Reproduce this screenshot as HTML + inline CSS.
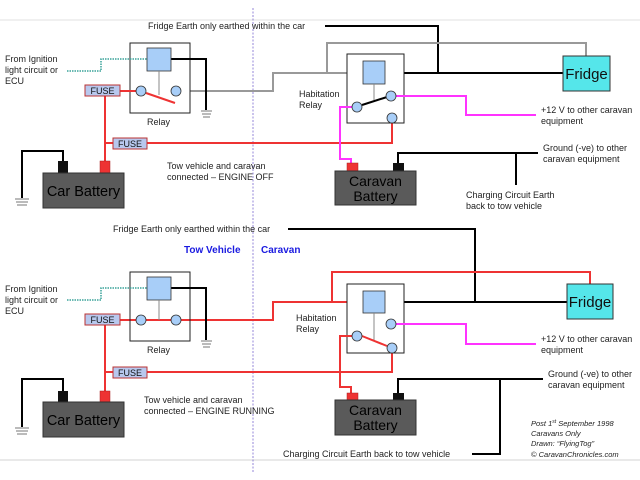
<!DOCTYPE html>
<html><head><meta charset="utf-8"><style>
html,body{margin:0;padding:0;background:#fff;width:640px;height:480px;overflow:hidden}
svg{display:block}
text{font-family:"Liberation Sans",Arial,sans-serif}
</style></head><body>
<svg width="640" height="480" viewBox="0 0 640 480" xmlns="http://www.w3.org/2000/svg">
<line x1="0" y1="20" x2="640" y2="20" stroke="#e2e2e2" stroke-width="1"/>
<line x1="0" y1="460" x2="640" y2="460" stroke="#e2e2e2" stroke-width="1.5"/>
<line x1="253" y1="8" x2="253" y2="472" stroke="#7a6ad0" stroke-width="0.8" stroke-dasharray="2,1.5"/>

<text x="148" y="29" font-size="9" fill="#222">Fridge Earth only earthed within the car</text>
<polyline points="325,26 438,26 438,73" fill="none" stroke="#000" stroke-width="2"/>
<polyline points="181,91 273,91 273,73 363,73" fill="none" stroke="#999" stroke-width="2"/>
<polyline points="327,73 327,43 586,43 586,56" fill="none" stroke="#999" stroke-width="2"/>
<line x1="385" y1="73" x2="563" y2="73" stroke="#000" stroke-width="2"/>
<rect x="563" y="56" width="47" height="35" fill="#55e6ea" stroke="#333" stroke-width="1"/>
<text x="586.5" y="79" font-size="15" text-anchor="middle" fill="#111">Fridge</text>
<rect x="130" y="43" width="60" height="70" fill="#fff" stroke="#222" stroke-width="1"/>
<polyline points="171,59 206,59 206,110" fill="none" stroke="#000" stroke-width="2"/>
<g stroke="#777" stroke-width="1"><line x1="201" y1="111" x2="212" y2="111"/><line x1="202" y1="114" x2="211" y2="114"/><line x1="203" y1="117" x2="210" y2="117"/></g>
<rect x="147" y="48" width="24" height="23" fill="#a8cef8" stroke="#333" stroke-width="0.8"/>
<line x1="159" y1="71" x2="159" y2="95" stroke="#888" stroke-width="1"/>
<polyline points="67,71 101,71 101,59 147,59" fill="none" stroke="#3aa39a" stroke-width="1.5" stroke-dasharray="1.5,1"/>
<text font-size="9" fill="#222"><tspan x="5" y="62">From Ignition</tspan><tspan x="5" y="73">light circuit or</tspan><tspan x="5" y="84">ECU</tspan></text>
<line x1="120" y1="91" x2="136" y2="91" stroke="#e33" stroke-width="2"/>
<line x1="146" y1="93" x2="175" y2="103" stroke="#e33" stroke-width="2"/>
<circle cx="141" cy="91" r="5" fill="#a8cef8" stroke="#333" stroke-width="0.8"/>
<circle cx="176" cy="91" r="5" fill="#a8cef8" stroke="#333" stroke-width="0.8"/>
<text x="147" y="125" font-size="9" fill="#222">Relay</text>
<line x1="105" y1="96" x2="105" y2="163" stroke="#e33" stroke-width="2"/>
<line x1="105" y1="143" x2="113" y2="143" stroke="#e33" stroke-width="2"/>
<polyline points="147,143 392,143 392,123" fill="none" stroke="#e33" stroke-width="2"/>
<rect x="85" y="85" width="35" height="11" fill="#b8c8ee" stroke="#b33" stroke-width="1"/>
<text x="102.5" y="94" font-size="9" text-anchor="middle" fill="#111">FUSE</text>
<rect x="113" y="138" width="34" height="11" fill="#b8c8ee" stroke="#b33" stroke-width="1"/>
<text x="130" y="147" font-size="9" text-anchor="middle" fill="#111">FUSE</text>
<polyline points="63,161 63,151 22,151 22,198" fill="none" stroke="#000" stroke-width="2"/>
<g stroke="#777" stroke-width="1"><line x1="15" y1="199" x2="29" y2="199"/><line x1="16" y1="202" x2="28" y2="202"/><line x1="17" y1="205" x2="27" y2="205"/></g>
<rect x="58" y="161" width="10" height="12" fill="#111"/>
<rect x="100" y="161" width="10" height="12" fill="#e33" stroke="#a22" stroke-width="0.5"/>
<rect x="43" y="173" width="81" height="35" fill="#5a5a5a" stroke="#333"/>
<text x="83.5" y="196" font-size="14.5" text-anchor="middle" fill="#000">Car Battery</text>
<text font-size="9" fill="#222"><tspan x="167" y="169">Tow vehicle and caravan</tspan><tspan x="167" y="180">connected – ENGINE OFF</tspan></text>
<rect x="347" y="54" width="57" height="69" fill="#fff" stroke="#222" stroke-width="1"/>
<rect x="363" y="61" width="22" height="23" fill="#a8cef8" stroke="#333" stroke-width="0.8"/>
<line x1="374" y1="84" x2="374" y2="100" stroke="#888" stroke-width="1"/>
<line x1="362" y1="105" x2="387" y2="97" stroke="#000" stroke-width="2"/>
<polyline points="396,96 466,96 466,115 536,115" fill="none" stroke="#f3f" stroke-width="2"/>
<polyline points="352,107 340,107 340,159 351,159 351,163" fill="none" stroke="#f3f" stroke-width="2"/>
<circle cx="357" cy="107" r="5" fill="#a8cef8" stroke="#333" stroke-width="0.8"/>
<circle cx="391" cy="96" r="5" fill="#a8cef8" stroke="#333" stroke-width="0.8"/>
<circle cx="392" cy="118" r="5" fill="#a8cef8" stroke="#333" stroke-width="0.8"/>
<text font-size="9" fill="#222"><tspan x="299" y="97">Habitation</tspan><tspan x="299" y="108">Relay</tspan></text>
<text font-size="9" fill="#222"><tspan x="541" y="113">+12 V to other caravan</tspan><tspan x="541" y="124">equipment</tspan></text>
<polyline points="398,163 398,153 538,153" fill="none" stroke="#000" stroke-width="2"/>
<line x1="516" y1="153" x2="516" y2="185" stroke="#000" stroke-width="2"/>
<rect x="347" y="163" width="11" height="8" fill="#e33" stroke="#a22" stroke-width="0.5"/>
<rect x="393" y="163" width="11" height="8" fill="#111"/>
<rect x="335" y="171" width="81" height="34" fill="#5a5a5a" stroke="#333"/>
<text x="375.5" y="186" font-size="14" text-anchor="middle" fill="#000">Caravan</text>
<text x="375.5" y="201" font-size="14" text-anchor="middle" fill="#000">Battery</text>
<text font-size="9" fill="#222"><tspan x="543" y="151">Ground (-ve) to other</tspan><tspan x="543" y="162">caravan equipment</tspan></text>
<text font-size="9" fill="#222"><tspan x="466" y="198">Charging Circuit Earth</tspan><tspan x="466" y="209">back to tow vehicle</tspan></text>

<text x="113" y="232" font-size="9" fill="#222">Fridge Earth only earthed within the car</text>
<polyline points="288,229 475,229 475,302" fill="none" stroke="#000" stroke-width="2"/>
<text x="184" y="253" font-size="10" font-weight="bold" fill="#1a1ae0">Tow Vehicle</text>
<text x="261" y="253" font-size="10" font-weight="bold" fill="#1a1ae0">Caravan</text>
<polyline points="120,320 273,320 273,302 363,302" fill="none" stroke="#e33" stroke-width="2"/>
<polyline points="332,302 332,272 590,272 590,284" fill="none" stroke="#e33" stroke-width="2"/>
<line x1="385" y1="302" x2="567" y2="302" stroke="#000" stroke-width="2"/>
<rect x="567" y="284" width="46" height="35" fill="#55e6ea" stroke="#333" stroke-width="1"/>
<text x="590" y="307" font-size="15" text-anchor="middle" fill="#111">Fridge</text>
<rect x="130" y="272" width="60" height="69" fill="none" stroke="#222" stroke-width="1"/>
<polyline points="171,288 206,288 206,340" fill="none" stroke="#000" stroke-width="2"/>
<g stroke="#777" stroke-width="1"><line x1="201" y1="341" x2="212" y2="341"/><line x1="202" y1="344" x2="211" y2="344"/><line x1="203" y1="347" x2="210" y2="347"/></g>
<rect x="147" y="277" width="24" height="23" fill="#a8cef8" stroke="#333" stroke-width="0.8"/>
<line x1="159" y1="300" x2="159" y2="320" stroke="#888" stroke-width="1"/>
<polyline points="67,300 101,300 101,288 147,288" fill="none" stroke="#3aa39a" stroke-width="1.5" stroke-dasharray="1.5,1"/>
<text font-size="9" fill="#222"><tspan x="5" y="292">From Ignition</tspan><tspan x="5" y="303">light circuit or</tspan><tspan x="5" y="314">ECU</tspan></text>
<circle cx="141" cy="320" r="5" fill="#a8cef8" stroke="#333" stroke-width="0.8"/>
<circle cx="176" cy="320" r="5" fill="#a8cef8" stroke="#333" stroke-width="0.8"/>
<text x="147" y="353" font-size="9" fill="#222">Relay</text>
<line x1="105" y1="325" x2="105" y2="391" stroke="#e33" stroke-width="2"/>
<line x1="105" y1="372" x2="113" y2="372" stroke="#e33" stroke-width="2"/>
<polyline points="147,372 392,372 392,353" fill="none" stroke="#e33" stroke-width="2"/>
<rect x="85" y="314" width="35" height="11" fill="#b8c8ee" stroke="#b33" stroke-width="1"/>
<text x="102.5" y="323" font-size="9" text-anchor="middle" fill="#111">FUSE</text>
<rect x="113" y="367" width="34" height="11" fill="#b8c8ee" stroke="#b33" stroke-width="1"/>
<text x="130" y="376" font-size="9" text-anchor="middle" fill="#111">FUSE</text>
<polyline points="63,391 63,379 22,379 22,427" fill="none" stroke="#000" stroke-width="2"/>
<g stroke="#777" stroke-width="1"><line x1="15" y1="428" x2="29" y2="428"/><line x1="16" y1="431" x2="28" y2="431"/><line x1="17" y1="434" x2="27" y2="434"/></g>
<rect x="58" y="391" width="10" height="11" fill="#111"/>
<rect x="100" y="391" width="10" height="11" fill="#e33" stroke="#a22" stroke-width="0.5"/>
<rect x="43" y="402" width="81" height="35" fill="#5a5a5a" stroke="#333"/>
<text x="83.5" y="425" font-size="14.5" text-anchor="middle" fill="#000">Car Battery</text>
<text font-size="9" fill="#222"><tspan x="144" y="403">Tow vehicle and caravan</tspan><tspan x="144" y="414">connected – ENGINE RUNNING</tspan></text>
<rect x="347" y="284" width="57" height="69" fill="#fff" stroke="#222" stroke-width="1"/>
<rect x="363" y="291" width="22" height="22" fill="#a8cef8" stroke="#333" stroke-width="0.8"/>
<line x1="374" y1="313" x2="374" y2="340" stroke="#888" stroke-width="1"/>
<line x1="362" y1="336" x2="387" y2="346" stroke="#e33" stroke-width="2"/>
<polyline points="396,324 466,324 466,344 536,344" fill="none" stroke="#f3f" stroke-width="2"/>
<polyline points="352,336 340,336 340,387 351,387 351,393" fill="none" stroke="#e33" stroke-width="2"/>
<circle cx="357" cy="336" r="5" fill="#a8cef8" stroke="#333" stroke-width="0.8"/>
<circle cx="391" cy="324" r="5" fill="#a8cef8" stroke="#333" stroke-width="0.8"/>
<circle cx="392" cy="348" r="5" fill="#a8cef8" stroke="#333" stroke-width="0.8"/>
<text font-size="9" fill="#222"><tspan x="296" y="321">Habitation</tspan><tspan x="296" y="332">Relay</tspan></text>
<text font-size="9" fill="#222"><tspan x="541" y="342">+12 V to other caravan</tspan><tspan x="541" y="353">equipment</tspan></text>
<polyline points="398,393 398,379 543,379" fill="none" stroke="#000" stroke-width="2"/>
<polyline points="500,379 500,454 472,454" fill="none" stroke="#000" stroke-width="2"/>
<rect x="347" y="393" width="11" height="7" fill="#e33" stroke="#a22" stroke-width="0.5"/>
<rect x="393" y="393" width="11" height="7" fill="#111"/>
<rect x="335" y="400" width="81" height="35" fill="#5a5a5a" stroke="#333"/>
<text x="375.5" y="415" font-size="14" text-anchor="middle" fill="#000">Caravan</text>
<text x="375.5" y="430" font-size="14" text-anchor="middle" fill="#000">Battery</text>
<text font-size="9" fill="#222"><tspan x="548" y="377">Ground (-ve) to other</tspan><tspan x="548" y="388">caravan equipment</tspan></text>
<text x="283" y="457" font-size="9" fill="#222">Charging Circuit Earth back to tow vehicle</text>
<text font-size="7.5" font-style="italic" fill="#222"><tspan x="531" y="426">Post 1<tspan font-size="5" dy="-3">st</tspan><tspan dy="3"> September 1998</tspan></tspan><tspan x="531" y="436">Caravans  Only</tspan><tspan x="531" y="446">Drawn:  “FlyingTog”</tspan><tspan x="531" y="457">©  CaravanChronicles.com</tspan></text>
</svg>
</body></html>
